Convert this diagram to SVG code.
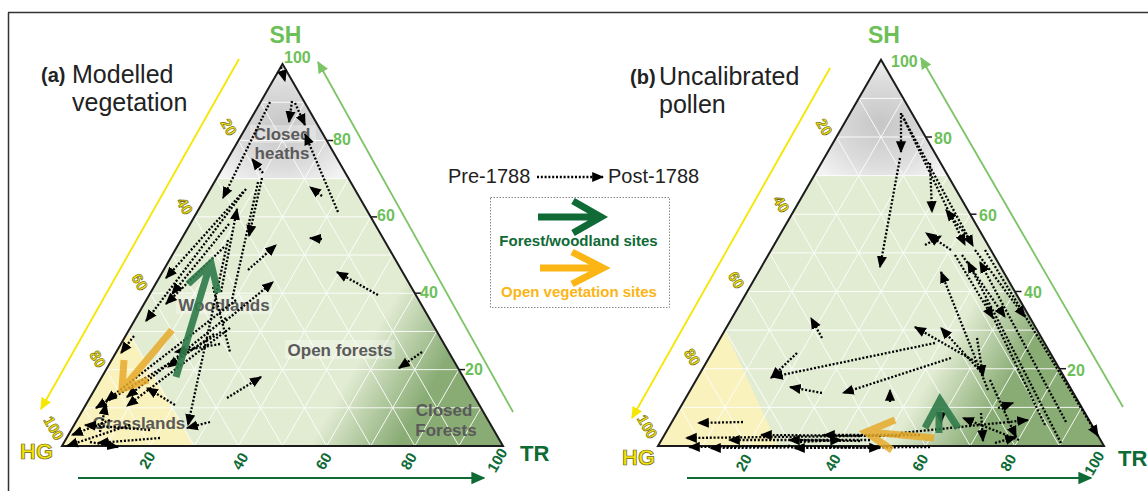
<svg xmlns="http://www.w3.org/2000/svg" width="1148" height="491" viewBox="0 0 1148 491">
<style>
text{font-family:"Liberation Sans",Arial,sans-serif}
.grid{fill:none;stroke:#fff;stroke-width:1;opacity:.9}
.outl{fill:none;stroke:#1c1c1c;stroke-width:2;stroke-linejoin:miter}
.dl{stroke:#000;stroke-width:2.3;stroke-dasharray:2 1.8;fill:none}
.yl{fill:#f3e30a;stroke:#6a6420;stroke-width:.6;font-weight:bold;font-size:15px}
.gl{fill:#6dbf58;font-weight:bold;font-size:16px}
.dg{fill:#0e6b35;font-weight:bold;font-size:15px}
.reg{fill:#5a5a5a;font-weight:bold;font-size:17px;text-anchor:middle}
.lbg{fill:#fff;opacity:.3}
.title{fill:#222;font-size:25px}
.tag{fill:#222;font-size:20px;font-weight:bold}
.tick{stroke:#1c1c1c;stroke-width:1.5}
.big{fill:none;stroke-width:7;stroke-linecap:butt;stroke-linejoin:miter}
</style>
<defs>
<marker id="ah" viewBox="0 0 10 10" refX="9" refY="5" markerWidth="12" markerHeight="12" markerUnits="userSpaceOnUse" orient="auto"><path d="M0,0.8 L10,5 L0,9.2 Z" fill="#000"/></marker>
<marker id="ahY" viewBox="0 0 10 10" refX="9" refY="5" markerWidth="12" markerHeight="12" markerUnits="userSpaceOnUse" orient="auto"><path d="M0,0.5 L10,5 L0,9.5 Z" fill="#f7e600"/></marker>
<marker id="ahL" viewBox="0 0 10 10" refX="9" refY="5" markerWidth="12" markerHeight="12" markerUnits="userSpaceOnUse" orient="auto"><path d="M0,0.5 L10,5 L0,9.5 Z" fill="#7cc466"/></marker>
<marker id="ahD" viewBox="0 0 10 10" refX="9" refY="5" markerWidth="14" markerHeight="14" markerUnits="userSpaceOnUse" orient="auto"><path d="M0,0.5 L10,5 L0,9.5 Z" fill="#0e6b35"/></marker>
<radialGradient id="grayG" cx="0.5" cy="0.55" r="0.6"><stop offset="0" stop-color="#c6c6c6"/><stop offset="0.6" stop-color="#dcdcdc"/><stop offset="1" stop-color="#f3f3f3"/></radialGradient>
<linearGradient id="darkA" gradientUnits="userSpaceOnUse" x1="56" y1="0" x2="71" y2="8.66"><stop offset="0" stop-color="#89ac75" stop-opacity="0"/><stop offset="1" stop-color="#89ac75"/></linearGradient>
<linearGradient id="darkB" gradientUnits="userSpaceOnUse" x1="52" y1="0" x2="66" y2="8.1"><stop offset="0" stop-color="#89ac75" stop-opacity="0"/><stop offset="1" stop-color="#89ac75"/></linearGradient>
<path id="tri" d="M0,0 L100,0 L50,-86.603 Z" vector-effect="non-scaling-stroke"/>
<path id="gridp" vector-effect="non-scaling-stroke" d="M5,-8.66H95M10,-17.32H90M15,-25.98H85M20,-34.64H80M25,-43.3H75M30,-51.96H70M35,-60.62H65M40,-69.28H60M45,-77.94H55M10,0L55,-77.94M20,0L60,-69.28M30,0L65,-60.62M40,0L70,-51.96M50,0L75,-43.3M60,0L80,-34.64M70,0L85,-25.98M80,0L90,-17.32M90,0L95,-8.66M90,0L45,-77.94M80,0L40,-69.28M70,0L35,-60.62M60,0L30,-51.96M50,0L25,-43.3M40,0L20,-34.64M30,0L15,-25.98M20,0L10,-17.32M10,0L5,-8.66"/>
</defs>

<g id="frame" fill="none" stroke="#333" stroke-width="1.5">
<line x1="8.5" y1="12.5" x2="8.5" y2="491"/>
<line x1="8" y1="12.5" x2="1148" y2="12.5"/>
</g>

<!-- ================= PANEL A ================= -->
<g id="panel-a">
<g id="triangle-a" transform="translate(62,446) scale(4.41)">
<use href="#tri" fill="#e2ecd3"/>
<path d="M35,-60.62 L65,-60.62 L50,-86.603 Z" fill="url(#grayG)"/>
<path d="M0,0 L15,-25.98 L30,0 Z" fill="#f9f2bc"/>
<use href="#tri" fill="url(#darkA)"/>
<use href="#gridp" class="grid"/>
<use href="#tri" class="outl"/>
</g>
<g id="axes-a">
<line x1="239" y1="59" x2="41" y2="409" stroke="#f7e600" stroke-width="1.8" marker-end="url(#ahY)"/>
<line x1="513" y1="412" x2="318" y2="62" stroke="#7cc466" stroke-width="1.8" marker-end="url(#ahL)"/>
<line x1="78" y1="478" x2="484" y2="478" stroke="#0e6b35" stroke-width="2" marker-end="url(#ahD)"/>
<line class="tick" x1="459" y1="369.6" x2="465" y2="369.6"/>
<line class="tick" x1="415" y1="293.2" x2="421" y2="293.2"/>
<line class="tick" x1="371" y1="216.9" x2="377" y2="216.9"/>
<line class="tick" x1="327" y1="140.5" x2="333" y2="140.5"/>
<text class="gl" x="284" y="63">100</text>
<text class="gl" x="333" y="145">80</text>
<text class="gl" x="377" y="221">60</text>
<text class="gl" x="420" y="298">40</text>
<text class="gl" x="465" y="375">20</text>
<text class="yl" text-anchor="middle" dominant-baseline="central" transform="translate(229,127) rotate(60)">20</text>
<text class="yl" text-anchor="middle" dominant-baseline="central" transform="translate(185,206) rotate(60)">40</text>
<text class="yl" text-anchor="middle" dominant-baseline="central" transform="translate(140,282) rotate(60)">60</text>
<text class="yl" text-anchor="middle" dominant-baseline="central" transform="translate(98,359) rotate(60)">80</text>
<text class="yl" text-anchor="middle" dominant-baseline="central" transform="translate(54,428) rotate(60)">100</text>
<text class="dg" text-anchor="middle" dominant-baseline="central" transform="translate(147,460) rotate(-60)">20</text>
<text class="dg" text-anchor="middle" dominant-baseline="central" transform="translate(240,461) rotate(-60)">40</text>
<text class="dg" text-anchor="middle" dominant-baseline="central" transform="translate(323.5,461) rotate(-60)">60</text>
<text class="dg" text-anchor="middle" dominant-baseline="central" transform="translate(408.5,461) rotate(-60)">80</text>
<text class="dg" text-anchor="middle" dominant-baseline="central" transform="translate(497,460) rotate(-60)">100</text>
<text x="285.5" y="43" text-anchor="middle" font-size="23" font-weight="bold" fill="#6dbf58">SH</text>
<text x="20" y="459" font-size="22" font-weight="bold" fill="#f3e30a" stroke="#6a6420" stroke-width=".7">HG</text>
<text x="520" y="461" font-size="22" font-weight="bold" fill="#0e6b35">TR</text>
</g>
<g id="title-a">
<text class="tag" x="41" y="82">(a)</text>
<text class="title" x="72" y="83">Modelled</text>
<text class="title" x="72" y="111">vegetation</text>
</g>
<g id="regions-a">
<rect class="lbg" x="250" y="125" width="66" height="18"/>
<text class="reg" x="282" y="140">Closed</text>
<text class="reg" x="282" y="159">heaths</text>
<rect class="lbg" x="176" y="295" width="96" height="19"/>
<text class="reg" x="224" y="311">Woodlands</text>
<rect class="lbg" x="285" y="340" width="110" height="19"/>
<text class="reg" x="340" y="356">Open forests</text>
<text class="reg" x="139" y="429">Grasslands</text>
<text class="reg" x="444" y="416">Closed</text>
<text class="reg" x="446" y="436">Forests</text>
</g>
</g>

<g id="connectors-a">
<line class="dl" x1="281" y1="67" x2="285" y2="81" marker-end="url(#ah)"/>
<line class="dl" x1="292" y1="101" x2="289" y2="122" marker-end="url(#ah)"/>
<line class="dl" x1="295" y1="103" x2="305" y2="125" marker-end="url(#ah)"/>
<line class="dl" x1="270" y1="102" x2="223" y2="198" marker-end="url(#ah)"/>
<line class="dl" x1="338" y1="212" x2="305" y2="134" marker-end="url(#ah)"/>
<line class="dl" x1="322" y1="196" x2="310" y2="187" marker-end="url(#ah)"/>
<line class="dl" x1="263" y1="173" x2="252" y2="159" marker-end="url(#ah)"/>
<line class="dl" x1="262" y1="178" x2="249" y2="236" marker-end="url(#ah)"/>
<line class="dl" x1="248" y1="270" x2="276" y2="245" marker-end="url(#ah)"/>
<line class="dl" x1="322" y1="239" x2="310" y2="238" marker-end="url(#ah)"/>
<line class="dl" x1="223" y1="323" x2="273" y2="282" marker-end="url(#ah)"/>
<line class="dl" x1="378" y1="295" x2="337" y2="272" marker-end="url(#ah)"/>
<line class="dl" x1="243" y1="192" x2="166" y2="278" marker-end="url(#ah)"/>
<line class="dl" x1="229" y1="224" x2="172" y2="294" marker-end="url(#ah)"/>
<line class="dl" x1="224" y1="247" x2="166" y2="304" marker-end="url(#ah)"/>
<line class="dl" x1="246" y1="189" x2="146" y2="321" marker-end="url(#ah)"/>
<line class="dl" x1="134" y1="336" x2="121" y2="353" marker-end="url(#ah)"/>
<line class="dl" x1="226" y1="318" x2="127" y2="397" marker-end="url(#ah)"/>
<line class="dl" x1="236" y1="300" x2="106" y2="401" marker-end="url(#ah)"/>
<line class="dl" x1="221" y1="332" x2="96" y2="408" marker-end="url(#ah)"/>
<line class="dl" x1="227" y1="398" x2="261" y2="377" marker-end="url(#ah)"/>
<line class="dl" x1="422" y1="352" x2="399" y2="368" marker-end="url(#ah)"/>
<line class="dl" x1="210" y1="422" x2="187" y2="428" marker-end="url(#ah)"/>
<line class="dl" x1="228" y1="240" x2="188" y2="425" marker-end="url(#ah)"/>
<line class="dl" x1="230" y1="328" x2="127" y2="406" marker-end="url(#ah)"/>
<line class="dl" x1="214" y1="334" x2="168" y2="367" marker-end="url(#ah)"/>
<line class="dl" x1="220" y1="344" x2="175" y2="352" marker-end="url(#ah)"/>
<line class="dl" x1="213" y1="287" x2="230" y2="352"/>
<line class="dl" x1="110" y1="420" x2="72" y2="435" marker-end="url(#ah)"/>
<line class="dl" x1="130" y1="425" x2="67" y2="446" marker-end="url(#ah)"/>
<line class="dl" x1="160" y1="438" x2="98" y2="443" marker-end="url(#ah)"/>
<line class="dl" x1="90" y1="442" x2="118" y2="447" marker-end="url(#ah)"/>
<line class="dl" x1="175" y1="405" x2="147" y2="388" marker-end="url(#ah)"/>
<line class="dl" x1="100" y1="432" x2="106" y2="404" marker-end="url(#ah)"/>
<line class="dl" x1="221" y1="292" x2="237" y2="209" marker-end="url(#ah)"/>
<line class="dl" x1="150" y1="430" x2="85" y2="425" marker-end="url(#ah)"/>
<line class="dl" x1="258" y1="182" x2="232" y2="300"/>
</g>

<g id="big-arrows-a">
<path class="big" d="M176,377 L209,268 M188,284 L211,263 L218,293" stroke="#2f7a49" opacity="0.9"/>
<path class="big" d="M172,330 L125,386 M124,360 L122,389 L148,380" stroke="#e6aa2a" opacity="0.85"/>
</g>

<!-- ================= LEGEND ================= -->
<g id="legend">
<text x="448" y="183" font-size="20" fill="#222">Pre-1788</text>
<line class="dl" x1="537" y1="177" x2="603" y2="177" marker-end="url(#ah)"/>
<text x="608" y="183" font-size="20" fill="#222">Post-1788</text>
<rect x="490.5" y="197.5" width="179" height="110" fill="none" stroke="#888" stroke-width="1" stroke-dasharray="1.5 1.5"/>
<path class="big" d="M538,217 L598,217 M573,201 L601,217 L573,233" stroke="#0f6a36"/>
<text x="578.5" y="246" text-anchor="middle" font-size="15" font-weight="bold" fill="#0f6a36">Forest/woodland sites</text>
<path class="big" d="M540,268 L600,268 M572,252 L603,268 L572,284" stroke="#fbb515"/>
<text x="579" y="297" text-anchor="middle" font-size="15" font-weight="bold" fill="#fbb515">Open vegetation sites</text>
</g>

<!-- ================= PANEL B ================= -->
<g id="panel-b">
<g id="triangle-b" transform="translate(658,446) scale(4.46)">
<use href="#tri" fill="#e2ecd3"/>
<path d="M35,-60.62 L65,-60.62 L50,-86.603 Z" fill="url(#grayG)"/>
<path d="M0,0 L15,-25.98 L27,0 Z" fill="#f9f2bc"/>
<use href="#tri" fill="url(#darkB)"/>
<use href="#gridp" class="grid"/>
<use href="#tri" class="outl"/>
</g>
<g id="axes-b">
<line x1="830" y1="68" x2="632" y2="418" stroke="#f7e600" stroke-width="1.8" marker-end="url(#ahY)"/>
<line x1="1123" y1="407" x2="921" y2="58" stroke="#7cc466" stroke-width="1.8" marker-end="url(#ahL)"/>
<line x1="687" y1="478" x2="1091" y2="478" stroke="#0e6b35" stroke-width="2" marker-end="url(#ahD)"/>
<line class="tick" x1="1059.5" y1="368.7" x2="1066" y2="368.7"/>
<line class="tick" x1="1015" y1="291.5" x2="1021.5" y2="291.5"/>
<line class="tick" x1="970" y1="214.2" x2="976.5" y2="214.2"/>
<line class="tick" x1="925.6" y1="137" x2="932" y2="137"/>
<text class="gl" x="891" y="67">100</text>
<text class="gl" x="934" y="144">80</text>
<text class="gl" x="979" y="221">60</text>
<text class="gl" x="1024" y="298">40</text>
<text class="gl" x="1067" y="376">20</text>
<text class="yl" text-anchor="middle" dominant-baseline="central" transform="translate(824.5,127) rotate(60)">20</text>
<text class="yl" text-anchor="middle" dominant-baseline="central" transform="translate(781.5,204) rotate(60)">40</text>
<text class="yl" text-anchor="middle" dominant-baseline="central" transform="translate(736.5,280) rotate(60)">60</text>
<text class="yl" text-anchor="middle" dominant-baseline="central" transform="translate(692.5,357) rotate(60)">80</text>
<text class="yl" text-anchor="middle" dominant-baseline="central" transform="translate(647.5,426.5) rotate(60)">100</text>
<text class="dg" text-anchor="middle" dominant-baseline="central" transform="translate(743.5,462.5) rotate(-60)">20</text>
<text class="dg" text-anchor="middle" dominant-baseline="central" transform="translate(832.5,462.5) rotate(-60)">40</text>
<text class="dg" text-anchor="middle" dominant-baseline="central" transform="translate(920,462.5) rotate(-60)">60</text>
<text class="dg" text-anchor="middle" dominant-baseline="central" transform="translate(1008,462.5) rotate(-60)">80</text>
<text class="dg" text-anchor="middle" dominant-baseline="central" transform="translate(1094,463) rotate(-60)">100</text>
<text x="884" y="43" text-anchor="middle" font-size="23" font-weight="bold" fill="#6dbf58">SH</text>
<text x="622" y="465" font-size="22" font-weight="bold" fill="#f3e30a" stroke="#6a6420" stroke-width=".7">HG</text>
<text x="1118" y="466" font-size="22" font-weight="bold" fill="#0e6b35">TR</text>
</g>
<g id="title-b">
<text class="tag" x="630" y="84">(b)</text>
<text class="title" x="659" y="85">Uncalibrated</text>
<text class="title" x="659" y="113">pollen</text>
</g>
</g>

<g id="connectors-b">
<line class="dl" x1="901" y1="113" x2="901" y2="152" marker-end="url(#ah)"/>
<line class="dl" x1="900" y1="158" x2="880" y2="267" marker-end="url(#ah)"/>
<line class="dl" x1="902" y1="115" x2="965" y2="245" marker-end="url(#ah)"/>
<line class="dl" x1="904" y1="119" x2="973" y2="246" marker-end="url(#ah)"/>
<line class="dl" x1="930" y1="163" x2="932" y2="212" marker-end="url(#ah)"/>
<line class="dl" x1="970" y1="240" x2="946" y2="210" marker-end="url(#ah)"/>
<line class="dl" x1="951" y1="250" x2="926" y2="233" marker-end="url(#ah)"/>
<line class="dl" x1="925" y1="245" x2="941" y2="236" marker-end="url(#ah)"/>
<line class="dl" x1="822" y1="338" x2="811" y2="318" marker-end="url(#ah)"/>
<line class="dl" x1="797" y1="353" x2="771" y2="378" marker-end="url(#ah)"/>
<line class="dl" x1="935" y1="343" x2="772" y2="377" marker-end="url(#ah)"/>
<line class="dl" x1="822" y1="393" x2="790" y2="387" marker-end="url(#ah)"/>
<line class="dl" x1="951" y1="358" x2="843" y2="393" marker-end="url(#ah)"/>
<line class="dl" x1="890" y1="402" x2="890" y2="390" marker-end="url(#ah)"/>
<line class="dl" x1="976" y1="362" x2="915" y2="327" marker-end="url(#ah)"/>
<line class="dl" x1="981" y1="372" x2="941" y2="328" marker-end="url(#ah)"/>
<line class="dl" x1="988" y1="390" x2="941" y2="272" marker-end="url(#ah)"/>
<line class="dl" x1="977" y1="338" x2="983" y2="376" marker-end="url(#ah)"/>
<line class="dl" x1="955" y1="255" x2="993" y2="318" marker-end="url(#ah)"/>
<line class="dl" x1="962" y1="255" x2="1005" y2="317" marker-end="url(#ah)"/>
<line class="dl" x1="975" y1="250" x2="1025" y2="317" marker-end="url(#ah)"/>
<line class="dl" x1="998" y1="408" x2="1013" y2="403" marker-end="url(#ah)"/>
<line class="dl" x1="981" y1="413" x2="983" y2="441" marker-end="url(#ah)"/>
<line class="dl" x1="990" y1="380" x2="1016" y2="437" marker-end="url(#ah)"/>
<line class="dl" x1="901" y1="433" x2="1028" y2="420" marker-end="url(#ah)"/>
<line class="dl" x1="1019" y1="440" x2="963" y2="418" marker-end="url(#ah)"/>
<line class="dl" x1="985" y1="250" x2="1098" y2="436" marker-end="url(#ah)"/>
<line class="dl" x1="1066" y1="422" x2="980" y2="262" marker-end="url(#ah)"/>
<line class="dl" x1="1061" y1="443" x2="968" y2="262" marker-end="url(#ah)"/>
<line class="dl" x1="1045" y1="425" x2="985" y2="300"/>
<line class="dl" x1="743" y1="422" x2="698" y2="423" marker-end="url(#ah)"/>
<line class="dl" x1="860" y1="436" x2="686" y2="438" marker-end="url(#ah)"/>
<line class="dl" x1="790" y1="446" x2="689" y2="447" marker-end="url(#ah)"/>
<line class="dl" x1="850" y1="447" x2="710" y2="448" marker-end="url(#ah)"/>
<line class="dl" x1="870" y1="440" x2="729" y2="440" marker-end="url(#ah)"/>
<line class="dl" x1="900" y1="436" x2="761" y2="435" marker-end="url(#ah)"/>
<line class="dl" x1="860" y1="441" x2="789" y2="440" marker-end="url(#ah)"/>
<line class="dl" x1="930" y1="447" x2="794" y2="448" marker-end="url(#ah)"/>
<line class="dl" x1="920" y1="435" x2="824" y2="435" marker-end="url(#ah)"/>
<line class="dl" x1="800" y1="442" x2="841" y2="440" marker-end="url(#ah)"/>
<line class="dl" x1="830" y1="447" x2="880" y2="448" marker-end="url(#ah)"/>
<line class="dl" x1="995" y1="443" x2="1016" y2="437" marker-end="url(#ah)"/>
<line class="dl" x1="941" y1="412" x2="941" y2="423" marker-end="url(#ah)"/>
</g>

<g id="big-arrows-b">
<path class="big" d="M939,433 L939,402 M925,428 L940,400 L958,428" stroke="#2f7a49" opacity="0.9"/>
<path class="big" d="M934,438 L869,432 M895,420 L866,432 L892,450" stroke="#e6aa2a" opacity="0.85"/>
</g>
</svg>
